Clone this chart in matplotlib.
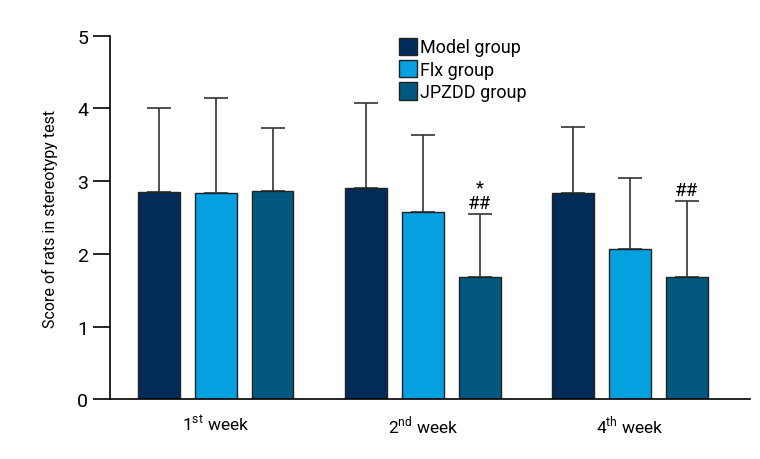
import numpy as np
import matplotlib
matplotlib.use('Agg')
import matplotlib.pyplot as plt

plt.rcParams['font.family'] = ['Roboto', 'DejaVu Sans']
plt.rcParams['mathtext.fontset'] = 'custom'
plt.rcParams['mathtext.rm'] = 'Roboto'

weeks = [r'1$^{\mathrm{st}}$ week', r'2$^{\mathrm{nd}}$ week', r'4$^{\mathrm{th}}$ week']
groups = ['Model group', 'Flx group', 'JPZDD group']
means = {
    'Model group': [2.85, 2.91, 2.84],
    'Flx group': [2.84, 2.58, 2.07],
    'JPZDD group': [2.86, 1.68, 1.68],
}
sds = {
    'Model group': [1.15, 1.17, 0.91],
    'Flx group': [1.31, 1.06, 0.98],
    'JPZDD group': [0.87, 0.87, 1.05],
}
marks = {1: '*\n##', 2: '##'}  # significance marks on JPZDD bars
colors = ['#032b58', '#04a0e0', '#02587f']

fig = plt.figure(figsize=(7.6, 4.6), dpi=100)
ax = fig.add_axes([0.145, 0.13, 0.842, 0.79])

x = np.arange(len(weeks))
width = 0.2
offsets = [-0.275, 0, 0.275]
for g, off, c in zip(groups, offsets, colors):
    ax.bar(x + off, means[g], width, color=c, edgecolor='#222222', linewidth=1.0,
           label=g, zorder=2)
    ax.errorbar(x + off, means[g], yerr=[np.zeros(3), sds[g]], fmt='none',
                ecolor='#333333', elinewidth=1.2, capsize=8.5, capthick=1.2, zorder=1)

for i, txt in marks.items():
    top = means['JPZDD group'][i] + sds['JPZDD group'][i]
    ax.text(x[i] + offsets[2], top + 0.03, txt, ha='center', va='bottom',
            fontsize=13.5, linespacing=0.8)

ax.set_ylim(0, 5)
ax.set_xlim(-0.51, 2.58)
ax.set_yticks(range(6))
ax.set_xticks(x)
ax.set_xticklabels(weeks, fontsize=12.5)
ax.tick_params(axis='x', length=0, pad=10)
ax.tick_params(axis='y', length=12, width=1.2, labelsize=14, pad=4)
ax.set_ylabel('Score of rats in stereotypy test', fontsize=11.5, labelpad=14)
for s in ['top', 'right']:
    ax.spines[s].set_visible(False)
for s in ['left', 'bottom']:
    ax.spines[s].set_linewidth(1.2)

ax.legend(loc='upper left', bbox_to_anchor=(0.44, 1.015), frameon=False, fontsize=13,
          handlelength=1.0, handleheight=1.1, handletextpad=0.15, labelspacing=0.2,
          borderaxespad=0)

fig.savefig('out.png', dpi=100)
